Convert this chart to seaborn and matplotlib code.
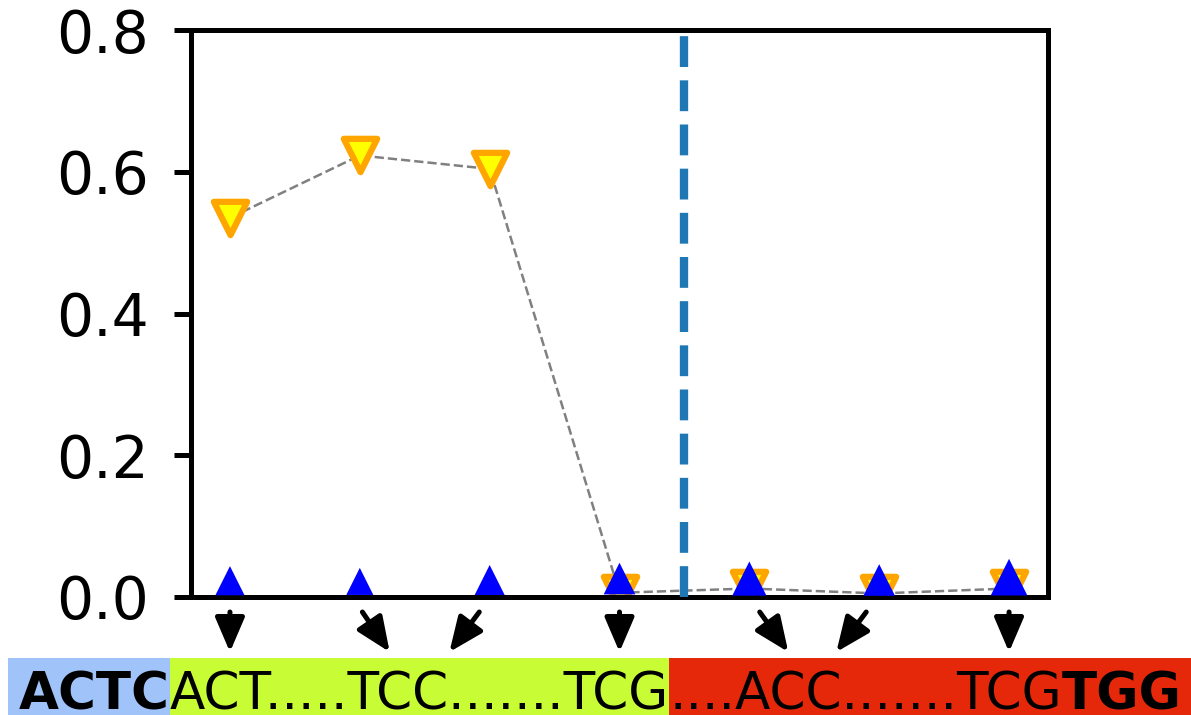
import numpy as np
import matplotlib
matplotlib.use("Agg")
import matplotlib.pyplot as plt
from matplotlib.patches import Rectangle
import seaborn as sns

# values
positions = np.arange(7)
yellow_vals = [0.535, 0.623, 0.604, 0.006, 0.012, 0.005, 0.012]
blue_vals = [0.023, 0.022, 0.024, 0.026, 0.026, 0.024, 0.028]
blue_ms = [7.0, 6.5, 7.2, 7.6, 8.2, 7.6, 8.8]
split_at = 3.5
yticks = [0.0, 0.2, 0.4, 0.6, 0.8]

# arrows: x in data units, from below the axis down to the sequence
arrow_from = [0.0, 1.02, 1.92, 3.0, 4.08, 4.9, 6.0]
arrow_to = [0.0, 1.23, 1.69, 3.0, 4.3, 4.67, 6.0]

seq_pieces = [
    ("ACTC", "bold", "#a0c4fa"),
    ("ACT.....TCC.......TCG", "normal", "#c8fd36"),
    ("....ACC.......TCG", "normal", "#e5280a"),
    ("TGG", "bold", "#e5280a"),
]

sns.set_style("ticks")
plt.rcParams['font.family'] = ['DejaVu Sans']
plt.rcParams.update({
    'axes.linewidth': 1.2, 'axes.edgecolor': 'black', 'text.color': 'black',
    'ytick.color': 'black', 'ytick.labelcolor': 'black',
})

W, H, DPI = 1191, 715, 300
SEQ_FS = 12.4
fig = plt.figure(figsize=(W / DPI, H / DPI), dpi=DPI)
ax = fig.add_axes([191 / W, 1 - 597 / H, (1048 - 191) / W, (597 - 30) / H])

sns.lineplot(x=positions, y=yellow_vals, color="gray", lw=0.6, linestyle="--", ax=ax, zorder=1)
sns.scatterplot(x=positions, y=yellow_vals, marker="v", s=8.0 ** 2, color="yellow",
                edgecolor="orange", linewidth=1.5, ax=ax, zorder=2)
sns.scatterplot(x=positions, y=blue_vals, marker="^", s=np.array(blue_ms) ** 2, color="blue",
                edgecolor="none", linewidth=0, ax=ax, zorder=3)
ax.axvline(split_at, color="#1f77b4", lw=2, ls="--", zorder=4)

ax.set_ylim(0, 0.8)
ax.set_yticks(yticks)
ax.set_yticklabels([f"{v:.1f}" for v in yticks])
ax.set_xticks([])
ax.tick_params(axis="y", labelsize=14, width=1.2, length=4, pad=6)
ax.set_xlabel("")
ax.set_ylabel("")

for x0, x1 in zip(arrow_from, arrow_to):
    ax.annotate("", xy=(x1, -0.097), xytext=(x0, -0.0265),
                xycoords=("data", "axes fraction"), textcoords=("data", "axes fraction"),
                arrowprops=dict(arrowstyle="-|>,head_length=0.7,head_width=0.3",
                                color="black", lw=1.2, shrinkA=0, shrinkB=0,
                                mutation_scale=10),
                annotation_clip=False)

# sequence strip: pieces laid out one after the other
texts = []
for i, (s, weight, _) in enumerate(seq_pieces):
    t = fig.text(19 / W if i == 0 else 0, 6 / H, s, fontsize=SEQ_FS, fontweight=weight,
                 ha="left", va="baseline", zorder=3)
    texts.append(t)

fig.canvas.draw()
r = fig.canvas.get_renderer()
x_cursor = None
for t in texts:
    if x_cursor is not None:
        t.set_x(x_cursor / W)
    x_cursor = t.get_window_extent(r).x1

fig.canvas.draw()
edges = [8]
for t in texts[1:3]:
    edges.append(t.get_window_extent(r).x0)
edges.append(W)
for i, col in enumerate([p[2] for p in seq_pieces[:3]]):
    fig.patches.append(Rectangle((edges[i] / W, 0), (edges[i + 1] - edges[i]) / W, 57 / H,
                                 transform=fig.transFigure, facecolor=col, edgecolor="none", zorder=1))

fig.savefig("out.png", dpi=DPI)
